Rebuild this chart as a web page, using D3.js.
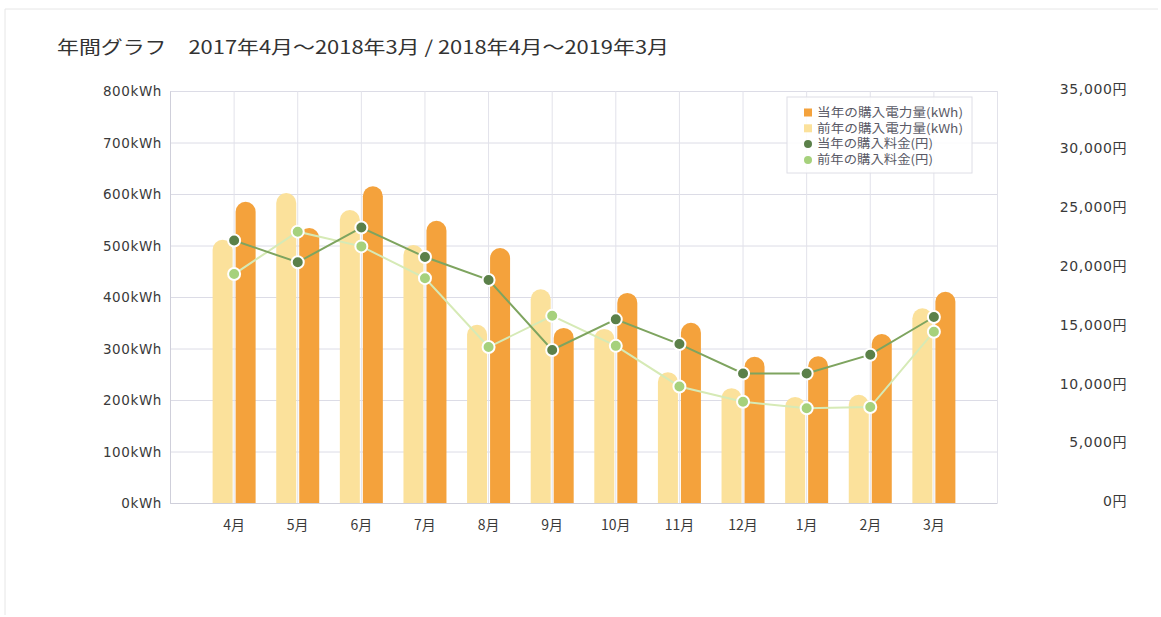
<!DOCTYPE html>
<html>
<head>
<meta charset="utf-8">
<script src="https://cdn.jsdelivr.net/npm/d3@7"></script>
<style>
  body { margin: 0; background: #fff; }
  text { font-family: "DejaVu Sans", Verdana, "Noto Sans CJK JP", sans-serif; fill: #3a3a3a; }
  .title { font-family: "Noto Sans CJK JP", sans-serif; fill: #333; }
  .legend text { font-family: "Noto Sans CJK JP", sans-serif; fill: #5a5a66; }
</style>
</head>
<body>
<div id="vis"></div>
<script>
// Data
var months = ['4月', '5月', '6月', '7月', '8月', '9月', '10月', '11月', '12月', '1月', '2月', '3月'];
var kwhThis = [585, 534, 615, 548, 495, 340, 408, 350, 284, 285, 328, 410];   // 当年の購入電力量
var kwhPrev = [511, 602, 569, 501, 346, 415, 338, 254, 223, 206, 210, 378];   // 前年の購入電力量
var yenThis = [22300, 20450, 23400, 20900, 18950, 13000, 15600, 13500, 11000, 11000, 12600, 15800]; // 当年の購入料金
var yenPrev = [19450, 23050, 21800, 19100, 13250, 15900, 13350, 9900, 8600, 8050, 8150, 14550];     // 前年の購入料金
var kwhTicks = [0, 100, 200, 300, 400, 500, 600, 700, 800];
var yenTicks = [0, 5000, 10000, 15000, 20000, 25000, 30000, 35000];
var legendLabels = ['当年の購入電力量(kWh)', '前年の購入電力量(kWh)', '当年の購入料金(円)', '前年の購入料金(円)'];

var width = 1161, height = 617;
var margin = { top: 91, right: 164, bottom: 114, left: 170 };
var drawWidth = width - margin.left - margin.right;
var drawHeight = height - margin.top - margin.bottom;

var colors = {
    barThis: '#f4a23c',
    barPrev: '#fbe19b',
    lineThis: '#7ea45f',
    linePrev: '#d6eab6',
    dotThis: '#5b8049',
    dotPrev: '#a6d17c'
};

var svg = d3.select('#vis').append('svg').attr('width', width).attr('height', height);

// faint scan frame
svg.append('path')
    .attr('d', 'M5,' + (height - 2) + 'V9H1158')
    .attr('fill', 'none').attr('stroke', '#e6e6e6').attr('stroke-width', 1);

svg.append('text').attr('class', 'title')
    .attr('x', 57).attr('y', 54)
    .style('font-size', '18px')
    .attr('textLength', 612).attr('lengthAdjust', 'spacingAndGlyphs')
    .text('年間グラフ　2017年4月～2018年3月 / 2018年4月～2019年3月');

var g = svg.append('g').attr('transform', 'translate(' + margin.left + ',' + margin.top + ')');

// scales
var xScale = d3.scalePoint().domain(months).range([0, drawWidth]).padding(1);
var yKwh = d3.scaleLinear().domain([0, 800]).range([drawHeight, 0]);
var yYen = d3.scaleLinear().domain([0, 35000]).range([drawHeight, 0]);

// grid
g.append('g').selectAll('line').data(kwhTicks).enter().append('line')
    .attr('x1', 0).attr('x2', drawWidth)
    .attr('y1', d => yKwh(d) + 0.5).attr('y2', d => yKwh(d) + 0.5)
    .attr('stroke', '#dcdce6');
g.append('g').selectAll('line').data(months).enter().append('line')
    .attr('x1', d => xScale(d) + 0.5).attr('x2', d => xScale(d) + 0.5)
    .attr('y1', 0).attr('y2', drawHeight)
    .attr('stroke', '#e2e2ea');
g.append('line').attr('x1', drawWidth + 0.5).attr('x2', drawWidth + 0.5)
    .attr('y1', 0).attr('y2', drawHeight).attr('stroke', '#e2e2ea');

// axes
var yAxisLeft = d3.axisLeft(yKwh).tickValues(kwhTicks).tickSize(0).tickPadding(8)
    .tickFormat(d => d + 'kWh');
var yAxisRight = d3.axisRight(yYen).tickValues(yenTicks).tickSize(0)
    .tickFormat(d => d3.format(',')(d) + '円');
var xAxis = d3.axisBottom(xScale).tickSize(0).tickPadding(17);

var la = g.append('g').attr('class', 'axis').call(yAxisLeft);
la.select('.domain').attr('stroke', '#cfcfda');
la.selectAll('text').style('font-size', '13.5px').style('letter-spacing', '0.6px').attr('dy', '0.35em');

var ra = g.append('g').attr('transform', 'translate(' + (drawWidth + 130) + ',0)').call(yAxisRight);
ra.select('.domain').remove();
ra.selectAll('text').attr('text-anchor', 'end').attr('x', 0)
    .style('font-size', '14px').style('letter-spacing', '0.6px').attr('dy', '0.2em');

var xa = g.append('g').attr('transform', 'translate(0,' + drawHeight + ')').call(xAxis);
xa.select('.domain').attr('stroke', '#cfcfda');
xa.selectAll('text').style('font-size', '14px').style('font-family', '"Noto Sans CJK JP", sans-serif');

svg.selectAll('.tick text').attr('fill', null);

// bars with rounded tops
var barW = 20;
function barPath(x, yTop) {
    var r = barW / 2;
    var yb = drawHeight;
    var yt = Math.min(yTop + r, yb);
    return 'M' + x + ',' + yb + 'V' + yt +
        'A' + r + ',' + r + ' 0 0 1 ' + (x + barW) + ',' + yt +
        'V' + yb + 'Z';
}

g.append('g').selectAll('path').data(kwhPrev).enter().append('path')
    .attr('d', (d, i) => barPath(xScale(months[i]) - barW - 1, yKwh(d)))
    .attr('fill', colors.barPrev);
g.append('g').selectAll('path').data(kwhThis).enter().append('path')
    .attr('d', (d, i) => barPath(xScale(months[i]) + 2, yKwh(d)))
    .attr('fill', colors.barThis);

// lines
var line = d3.line().x((d, i) => xScale(months[i]) + 0.5).y(d => yYen(d));
g.append('path').datum(yenPrev).attr('d', line)
    .attr('fill', 'none').attr('stroke', colors.linePrev).attr('stroke-width', 2);
g.append('path').datum(yenThis).attr('d', line)
    .attr('fill', 'none').attr('stroke', colors.lineThis).attr('stroke-width', 2);

g.append('g').selectAll('circle').data(yenPrev).enter().append('circle')
    .attr('cx', (d, i) => xScale(months[i]) + 0.5).attr('cy', d => yYen(d))
    .attr('r', 6).attr('fill', colors.dotPrev).attr('stroke', '#fff').attr('stroke-width', 2);
g.append('g').selectAll('circle').data(yenThis).enter().append('circle')
    .attr('cx', (d, i) => xScale(months[i]) + 0.5).attr('cy', d => yYen(d))
    .attr('r', 6).attr('fill', colors.dotThis).attr('stroke', '#fff').attr('stroke-width', 2);

// legend
var legend = svg.append('g').attr('class', 'legend').attr('transform', 'translate(787,97)');
legend.append('rect').attr('width', 185).attr('height', 76)
    .attr('fill', 'rgba(255,255,255,0.85)').attr('stroke', '#dedee6');
var swatch = [colors.barThis, colors.barPrev, colors.dotThis, colors.dotPrev];
var textLen = [146, 146, 116, 116];
var items = legend.selectAll('.item').data(legendLabels).enter().append('g')
    .attr('transform', (d, i) => 'translate(21,' + (15.5 + i * 15.8) + ')');
items.each(function(d, i) {
    var it = d3.select(this);
    if (i < 2) {
        it.append('rect').attr('x', -4).attr('y', -4).attr('width', 8).attr('height', 8).attr('fill', swatch[i]);
    } else {
        it.append('circle').attr('r', 4).attr('fill', swatch[i]);
    }
});
items.append('text').attr('x', 9).attr('dy', '0.35em').style('font-size', '12px')
    .attr('textLength', (d, i) => textLen[i]).attr('lengthAdjust', 'spacingAndGlyphs')
    .text(d => d);
</script>
</body>
</html>
